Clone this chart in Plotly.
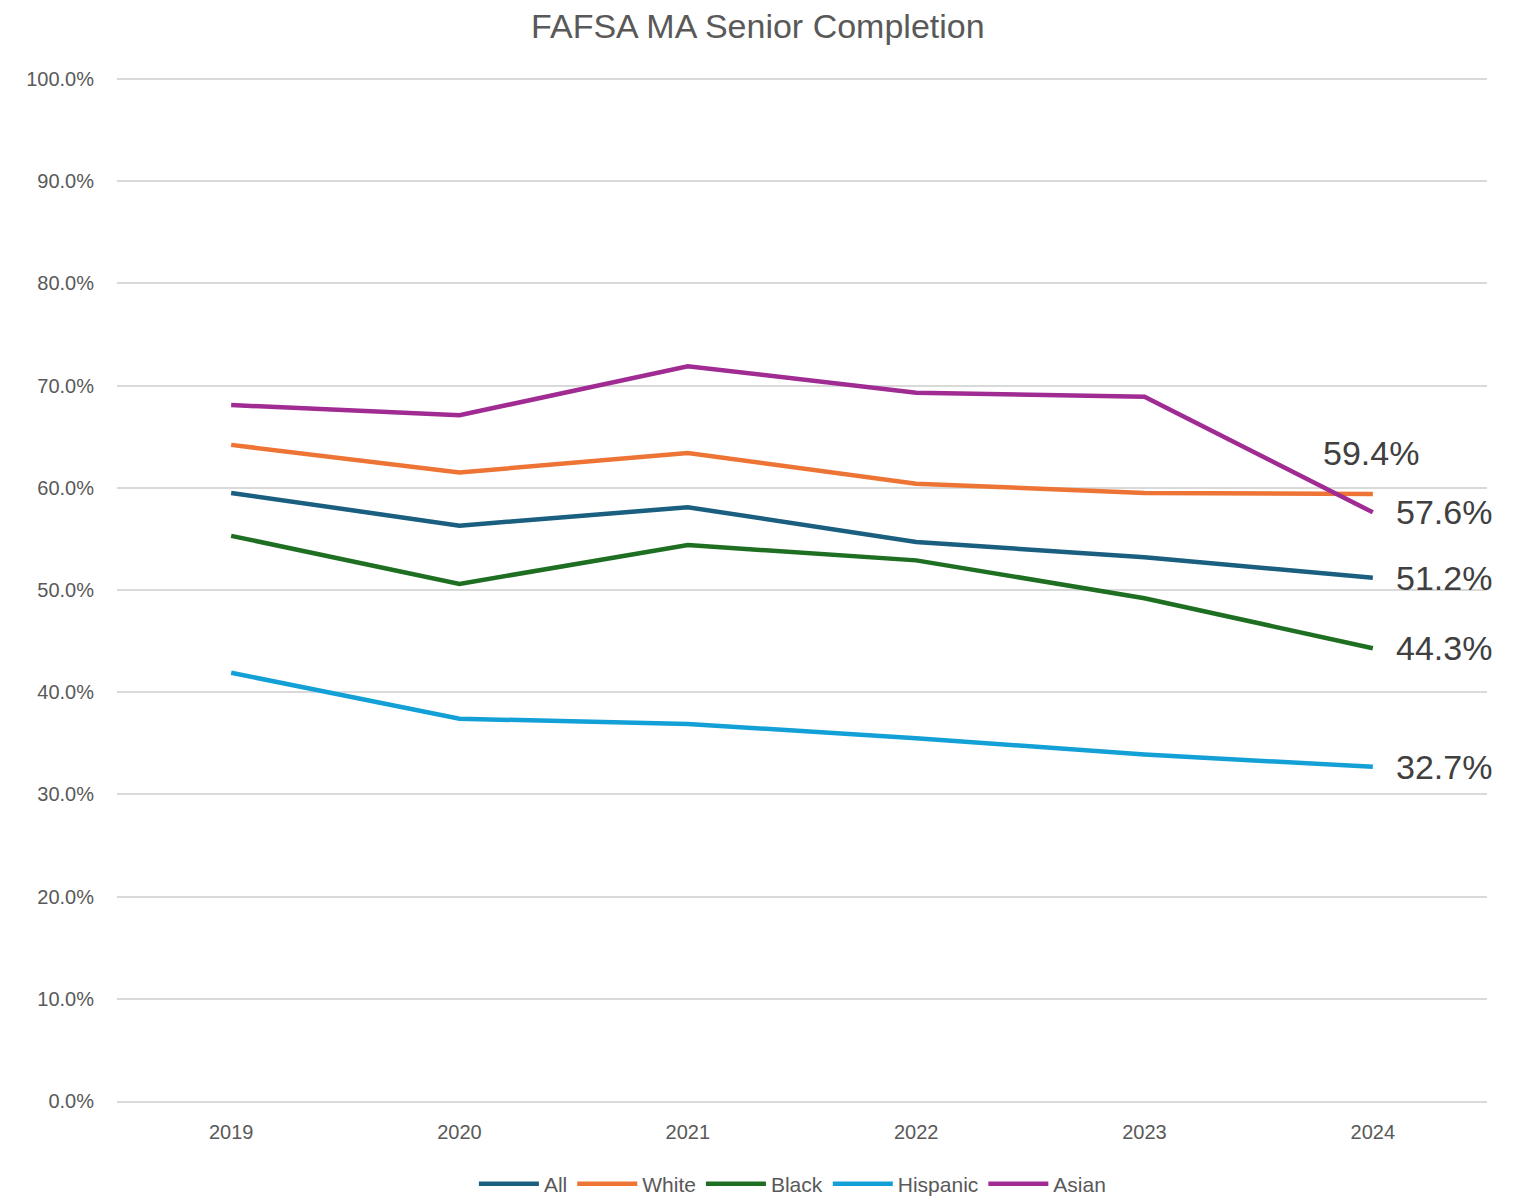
import plotly.graph_objects as go

years = ["2019", "2020", "2021", "2022", "2023", "2024"]
all_vals = [0.595, 0.563, 0.581, 0.547, 0.532, 0.512]
white_vals = [0.642, 0.615, 0.634, 0.604, 0.595, 0.594]
black_vals = [0.553, 0.506, 0.544, 0.529, 0.492, 0.443]
hispanic_vals = [0.419, 0.374, 0.369, 0.355, 0.339, 0.327]
asian_vals = [0.681, 0.671, 0.719, 0.693, 0.689, 0.576]

series = [
    ("All", all_vals, "#1a5e80"),
    ("White", white_vals, "#ed7434"),
    ("Black", black_vals, "#1e6f22"),
    ("Hispanic", hispanic_vals, "#12a0d7"),
    ("Asian", asian_vals, "#a02b93"),
]

FONT = "Liberation Sans, Arial, sans-serif"
last_idx = len(years) - 1

fig = go.Figure()
for name, vals, color in series:
    fig.add_trace(go.Scatter(
        x=years, y=vals, name=name, mode="lines",
        line=dict(color=color, width=4.5),
        cliponaxis=False,
    ))
    label = f"{vals[-1]*100:.1f}%"
    if name == "White":
        fig.add_annotation(x=last_idx, y=vals[-1], xref="x", yref="y", text=label, showarrow=False,
                           xanchor="center", yanchor="middle", yshift=41, xshift=-2,
                           font=dict(size=34, color="#404040", family=FONT))
    else:
        fig.add_annotation(x=last_idx, y=vals[-1], xref="x", yref="y", text=label, showarrow=False,
                           xanchor="left", yanchor="middle", xshift=21,
                           font=dict(size=34, color="#404040", family=FONT))

fig.update_layout(
    width=1521, height=1188,
    paper_bgcolor="white", plot_bgcolor="white",
    margin=dict(l=109, r=42, t=70, b=95, autoexpand=False),
    title=dict(text="FAFSA MA Senior Completion", x=0.493, xanchor="center",
               y=1 - 18 / 1188, yanchor="middle",
               font=dict(size=34, color="#595959", family=FONT)),
    font=dict(family=FONT, color="#595959", size=20),
    hovermode=False,
    showlegend=True,
    legend=dict(orientation="h", x=0.493, xanchor="center", yref="container",
                y=1 - 1176 / 1188, yanchor="middle",
                font=dict(size=21, color="#595959", family=FONT),
                itemwidth=60, tracegroupgap=0),
)
fig.update_xaxes(type="category", range=[-0.5, 5.5], showgrid=False, showline=True,
                 linecolor="#d9d9d9", linewidth=1.5, ticks="", ticklabelstandoff=12,
                 tickfont=dict(size=20, color="#595959"))
fig.update_yaxes(range=[0, 1.001], tickformat=".1%", dtick=0.1, showgrid=True,
                 gridcolor="#d9d9d9", gridwidth=1.5, zeroline=False, ticklabelstandoff=22,
                 tickfont=dict(size=20, color="#595959"))

fig.write_html("out.html")
